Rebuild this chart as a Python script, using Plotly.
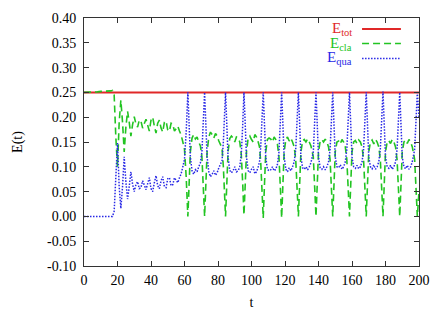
import plotly.graph_objects as go

# ---------------- data ----------------
t_tot = [0, 50, 100, 150, 200]
e_tot = [0.25, 0.25, 0.25, 0.25, 0.25]

t = [
    0, 2, 4, 6, 8, 10, 12, 14, 16, 17,
    18, 19, 20, 21, 22, 23, 24, 25, 26, 27, 28, 29, 30, 31, 32, 33, 34, 35, 36, 37,
    38, 39, 40, 41, 42, 43, 44, 45, 46, 47, 48, 49, 50, 51, 52, 53, 54, 55, 56, 57,
    58, 59, 60, 61, 62,
    62.7, 63.5, 64.5, 65.5, 66.5, 67.5, 68.5, 69.5, 70.4, 71.2, 72,
    72.7, 73.5, 74.5, 75.5, 76.5, 77.5, 78.5, 79.5, 80.5, 81.5, 82.4, 83.2, 83.8, 84.5,
    85.2, 86.0, 87.0, 88.0, 89.0, 90.0, 91.0, 92.0, 93.0, 93.9, 94.7, 95.5,
    96.2, 97.0, 98.0, 99.0, 100.0, 101.0, 102.0, 103.0, 104.0, 104.8, 105.5, 106.2, 107,
    107.7, 108.5, 109.5, 110.5, 111.5, 112.5, 113.5, 114.5, 115.5, 116.4, 117.2, 118,
    118.7, 119.5, 120.5, 121.5, 122.5, 123.5, 124.5, 125.5, 126.4, 127.2, 128,
    128.7, 129.5, 130.5, 131.5, 132.5, 133.5, 134.5, 135.5, 136.9, 137.7, 138.5,
    139.2, 140.0, 141.0, 142.0, 143.0, 144.0, 145.0, 146.0, 146.9, 147.7, 148.5,
    149.2, 150.0, 151.0, 152.0, 153.0, 154.0, 155.0, 156.0, 156.9, 157.7, 158.5,
    159.2, 160.0, 161.0, 162.0, 163.0, 164.0, 165.0, 166.0, 166.9, 167.7, 168.5,
    169.2, 170.0, 171.0, 172.0, 173.0, 174.0, 175.0, 176.0, 176.9, 177.7, 178.5,
    179.2, 180.0, 181.0, 182.0, 183.0, 184.0, 185.0, 186.0, 186.9, 187.7, 188.5,
    189.2, 190.0, 191.0, 192.0, 193.0, 194.0, 195.0, 196.0, 197.4, 198.2, 199.0, 199.6, 200.0,
]

e_qua = [
    0, 0, 0, 0, 0, 0, 0, 0, 0, 0,
    0.01, 0.09, 0.148, 0.06, 0.016, 0.06, 0.12, 0.07, 0.035, 0.06, 0.09, 0.065, 0.05, 0.064, 0.07, 0.056, 0.058, 0.072, 0.062, 0.054,
    0.066, 0.078, 0.056, 0.05, 0.068, 0.082, 0.062, 0.056, 0.072, 0.08, 0.06, 0.058, 0.076, 0.078, 0.062, 0.064, 0.078, 0.074, 0.068, 0.078,
    0.086, 0.1, 0.115, 0.17, 0.25,
    0.19, 0.12, 0.092, 0.085, 0.094, 0.09, 0.1, 0.108, 0.13, 0.19, 0.25,
    0.19, 0.12, 0.09, 0.08, 0.085, 0.092, 0.083, 0.088, 0.098, 0.105, 0.112, 0.15, 0.2, 0.25,
    0.19, 0.12, 0.093, 0.088, 0.092, 0.1, 0.09, 0.092, 0.1, 0.125, 0.18, 0.25,
    0.19, 0.12, 0.092, 0.088, 0.095, 0.1, 0.086, 0.09, 0.1, 0.11, 0.14, 0.19, 0.25,
    0.19, 0.12, 0.095, 0.092, 0.094, 0.1, 0.092, 0.095, 0.105, 0.13, 0.19, 0.25,
    0.19, 0.12, 0.095, 0.09, 0.098, 0.092, 0.1, 0.11, 0.135, 0.19, 0.25,
    0.19, 0.12, 0.098, 0.095, 0.1, 0.094, 0.1, 0.108, 0.13, 0.19, 0.25,
    0.19, 0.12, 0.098, 0.095, 0.1, 0.094, 0.1, 0.11, 0.135, 0.19, 0.25,
    0.19, 0.12, 0.1, 0.098, 0.104, 0.095, 0.1, 0.11, 0.135, 0.19, 0.25,
    0.19, 0.12, 0.1, 0.097, 0.103, 0.096, 0.1, 0.11, 0.135, 0.19, 0.25,
    0.19, 0.12, 0.1, 0.096, 0.104, 0.095, 0.1, 0.11, 0.135, 0.19, 0.252,
    0.19, 0.12, 0.1, 0.097, 0.103, 0.095, 0.1, 0.11, 0.135, 0.19, 0.25,
    0.19, 0.12, 0.1, 0.096, 0.103, 0.095, 0.1, 0.11, 0.135, 0.19, 0.25, 0.22, 0.2,
]

e_cla = [
    0.250, 0.250, 0.251, 0.251, 0.251, 0.252, 0.252, 0.253, 0.253, 0.254,
    0.245, 0.16, 0.10, 0.19, 0.234, 0.19, 0.13, 0.18, 0.212, 0.19, 0.162, 0.185, 0.201, 0.186, 0.18, 0.194, 0.192, 0.178, 0.188, 0.196,
    0.184, 0.172, 0.194, 0.2, 0.182, 0.168, 0.188, 0.194, 0.178, 0.17, 0.19, 0.192, 0.174, 0.172, 0.188, 0.186, 0.172, 0.176, 0.182, 0.172,
    0.164, 0.15, 0.135, 0.08, 0.0,
    0.06, 0.13, 0.158, 0.165, 0.156, 0.16, 0.15, 0.142, 0.12, 0.06, 0.0,
    0.06, 0.13, 0.16, 0.17, 0.165, 0.158, 0.167, 0.162, 0.152, 0.145, 0.138, 0.1, 0.05, 0.0,
    0.06, 0.13, 0.157, 0.162, 0.158, 0.15, 0.16, 0.158, 0.15, 0.125, 0.07, 0.003,
    0.06, 0.13, 0.158, 0.162, 0.155, 0.15, 0.165, 0.16, 0.15, 0.14, 0.11, 0.06, -0.003,
    0.06, 0.13, 0.155, 0.158, 0.156, 0.15, 0.16, 0.155, 0.145, 0.12, 0.06, -0.003,
    0.06, 0.13, 0.155, 0.16, 0.152, 0.158, 0.15, 0.14, 0.115, 0.06, 0.0,
    0.06, 0.13, 0.152, 0.155, 0.15, 0.156, 0.15, 0.142, 0.12, 0.06, 0.0,
    0.06, 0.13, 0.152, 0.155, 0.15, 0.156, 0.15, 0.14, 0.115, 0.06, 0.0,
    0.06, 0.13, 0.15, 0.152, 0.146, 0.155, 0.15, 0.14, 0.115, 0.06, 0.0,
    0.06, 0.13, 0.15, 0.153, 0.147, 0.154, 0.15, 0.14, 0.115, 0.06, 0.0,
    0.06, 0.13, 0.15, 0.154, 0.146, 0.155, 0.15, 0.14, 0.115, 0.06, 0.0,
    0.06, 0.13, 0.15, 0.153, 0.147, 0.155, 0.15, 0.14, 0.115, 0.06, 0.0,
    0.06, 0.13, 0.15, 0.154, 0.147, 0.155, 0.15, 0.14, 0.115, 0.06, 0.0, 0.03, 0.05,
]

x_ticks = [0, 20, 40, 60, 80, 100, 120, 140, 160, 180, 200]
x_tick_labels = ["0", "20", "40", "60", "80", "100", "120", "140", "160", "180", "200"]
y_ticks = [-0.10, -0.05, 0.00, 0.05, 0.10, 0.15, 0.20, 0.25, 0.30, 0.35, 0.40]
y_tick_labels = ["-0.10", "-0.05", "0.00", "0.05", "0.10", "0.15", "0.20", "0.25", "0.30", "0.35", "0.40"]

series_names = ["E<sub>tot</sub>", "E<sub>cla</sub>", "E<sub>qua</sub>"]
series_colors = ["#e02828", "#22c422", "#2828e6"]

# ---------------- figure ----------------
FONT = "Liberation Serif"

fig = go.Figure()
fig.add_trace(go.Scatter(x=t_tot, y=e_tot, mode="lines", name=series_names[0],
                         line=dict(color=series_colors[0], width=2)))
fig.add_trace(go.Scatter(x=t, y=e_cla, mode="lines", name=series_names[1],
                         line=dict(color=series_colors[1], width=1.6, dash="7px,4px")))
fig.add_trace(go.Scatter(x=t, y=e_qua, mode="lines", name=series_names[2],
                         line=dict(color=series_colors[2], width=1.5, dash="1.5px,1.5px")))

axis_common = dict(
    showline=True, linecolor="#333333", linewidth=1, mirror="ticks",
    ticks="inside", ticklen=5, tickcolor="#333333", tickwidth=1,
    showgrid=False, zeroline=False, automargin=False,
    tickfont=dict(family=FONT, size=14, color="black"),
)

fig.update_layout(
    template="none",
    width=444, height=311,
    margin=dict(l=84, r=25, t=18, b=45, autoexpand=False),
    paper_bgcolor="white", plot_bgcolor="white",
    showlegend=False,
    font=dict(family=FONT, size=14, color="black"),
    xaxis=dict(range=[0, 200], tickvals=x_ticks, ticktext=x_tick_labels,
               title=dict(text="t", font=dict(family=FONT, size=14), standoff=10),
               ticklabelstandoff=1, **axis_common),
    yaxis=dict(range=[-0.10, 0.40], tickvals=y_ticks, ticktext=y_tick_labels,
               title=dict(text="E(t)", font=dict(family=FONT, size=14), standoff=21),
               ticklabelstandoff=4, **axis_common),
)

# gnuplot-style key: label on the left, line sample on the right
key_y = [0.956, 0.897, 0.837]
dashes = ["solid", "7px,4px", "1.5px,1.5px"]
widths = [2, 1.6, 1.5]
for name, color, ky, dsh, w in zip(series_names, series_colors, key_y, dashes, widths):
    fig.add_shape(type="line", xref="paper", yref="paper",
                  x0=0.830, x1=0.946, y0=ky, y1=ky,
                  line=dict(color=color, width=w, dash=dsh))
    fig.add_annotation(xref="paper", yref="paper", x=0.806, y=ky,
                       xanchor="right", yanchor="middle", showarrow=False,
                       text=name, font=dict(family=FONT, size=15, color=color))

fig.write_html("out.html", config={"displayModeBar": False},
               post_script="document.body.style.margin='0';")
